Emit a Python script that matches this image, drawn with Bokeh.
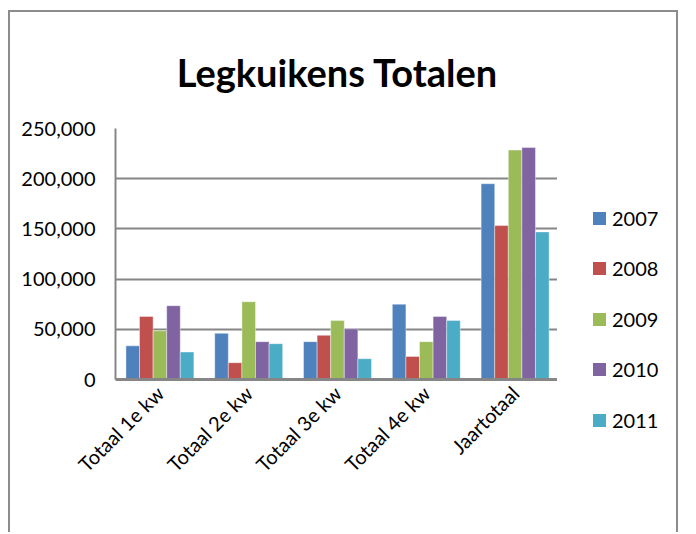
import math
from bokeh.plotting import figure
from bokeh.models import ColumnDataSource, FixedTicker, NumeralTickFormatter, Spacer, Div
from bokeh.layouts import row, column
from bokeh.transform import dodge
from bokeh.embed import file_html
from bokeh.resources import INLINE

categories = ["Totaal 1e kw", "Totaal 2e kw", "Totaal 3e kw", "Totaal 4e kw", "Jaartotaal"]
years = ["2007", "2008", "2009", "2010", "2011"]
y2007 = [33500, 46000, 37700, 75000, 195000]
y2008 = [62800, 16700, 44000, 23000, 153300]
y2009 = [48500, 77500, 58700, 37700, 228500]
y2010 = [73500, 37700, 50500, 62800, 231000]
y2011 = [27400, 35700, 20700, 58700, 147000]
y_ticks = [0, 50000, 100000, 150000, 200000, 250000]
colors = ["#4F81BD", "#C0504D", "#9BBB59", "#8064A2", "#4BACC6"]

FONT = "Lato"
BORDER = "2px solid #8c8c8c"

source = ColumnDataSource(dict(cat=categories, y2007=y2007, y2008=y2008,
                               y2009=y2009, y2010=y2010, y2011=y2011))

# main chart
p = figure(x_range=categories, y_range=(0, 250000), width=549, height=522,
           output_backend="svg", toolbar_location=None,
           min_border_left=105, min_border_right=0, min_border_top=116,
           min_border_bottom=155)
p.styles = {"border-top": BORDER, "border-left": BORDER}

p.title.text = "Legkuikens Totalen"
p.title.text_font = FONT
p.title.text_font_size = "38px"
p.title.text_font_style = "bold"
p.title.align = "center"
p.title.text_color = "black"
p.title.standoff = 68
p.title.offset = 12

bw = 0.153
offsets = [-2 * bw, -bw, 0, bw, 2 * bw]
for yr, col, off in zip(years, colors, offsets):
    p.vbar(x=dodge("cat", off, range=p.x_range), top="y" + yr, width=bw,
           source=source, fill_color=col, line_color="white", line_alpha=0.4,
           line_width=1)

p.outline_line_color = None
p.xgrid.grid_line_color = None
p.ygrid.ticker = FixedTicker(ticks=y_ticks)
p.ygrid.grid_line_color = "#868686"
p.ygrid.grid_line_width = 2

p.yaxis.ticker = FixedTicker(ticks=y_ticks)
p.yaxis.formatter = NumeralTickFormatter(format="0,0")
p.yaxis.axis_line_color = "#868686"
p.yaxis.axis_line_width = 2
p.yaxis.major_tick_line_color = None
p.yaxis.minor_tick_line_color = None
p.yaxis.major_tick_out = 0
p.yaxis.major_label_standoff = 20
p.yaxis.major_label_text_font = FONT
p.yaxis.major_label_text_font_size = "20px"
p.yaxis.major_label_text_color = "black"

p.xaxis.axis_line_color = "#868686"
p.xaxis.axis_line_width = 3
p.xaxis.major_tick_line_color = None
p.xaxis.major_tick_out = 0
p.xaxis.major_label_orientation = math.pi / 4
p.xaxis.major_label_standoff = 10
p.xaxis.major_label_text_font = FONT
p.xaxis.major_label_text_font_size = "20px"
p.xaxis.major_label_text_color = "black"

p.x_range.range_padding = 0

# legend panel (right part of the chart box)
rows_html = []
for i, (yr, col) in enumerate(zip(years, colors)):
    top = 193.5 + i * 50.5
    rows_html.append(
        f'<div style="position:absolute;left:36px;top:{top}px;height:25px;'
        f'display:flex;align-items:center;white-space:nowrap;">'
        f'<span style="display:inline-block;width:13px;height:13px;'
        f'background:{col};margin-right:6px;"></span>'
        f'<span>{yr}</span></div>'
    )
legend_html = (
    f'<div style="position:relative;width:119px;height:520px;'
    f'font-family:{FONT},sans-serif;font-size:20px;color:#000;line-height:25px;">'
    + "".join(rows_html) + "</div>"
)
legend_div = Div(text=legend_html, width=121, height=522,
                 styles={"border-top": BORDER, "border-right": BORDER,
                         "margin": "0", "padding": "0"})

layout = column(Spacer(height=10), row(Spacer(width=8), p, legend_div))

open("out.html", "w").write(file_html(layout, INLINE))
